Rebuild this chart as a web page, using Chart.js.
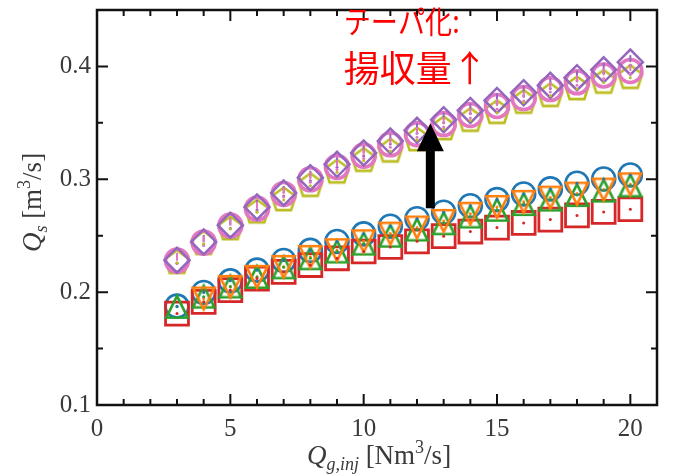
<!DOCTYPE html>
<html><head><meta charset="utf-8">
<script src="https://cdn.jsdelivr.net/npm/chart.js@4/dist/chart.umd.min.js"></script>
<style>html,body{margin:0;padding:0;background:#fff}#wrap{width:674px;height:475px;position:relative}</style>
</head><body><div id="wrap"><canvas id="c" width="674" height="475"></canvas></div>
<script>
// ---------- data ----------
const xValues = [3,4,5,6,7,8,9,10,11,12,13,14,15,16,17,18,19,20];
const blueCircle    = [0.1876,0.1997,0.2100,0.2195,0.2280,0.2370,0.2449,0.2516,0.2584,0.2650,0.2708,0.2766,0.2820,0.2870,0.2915,0.2965,0.3003,0.3038];
const orangeTriDown = [null,  0.1944,0.2047,0.2136,0.2224,0.2313,0.2372,0.2451,0.2519,0.2573,0.2631,0.2695,0.2755,0.2800,0.2838,0.2873,0.2909,0.2956];
const greenTriUp    = [0.1870,0.1960,0.2050,0.2135,0.2220,0.2300,0.2360,0.2430,0.2500,0.2555,0.2610,0.2670,0.2730,0.2780,0.2820,0.2860,0.2900,0.2945];
const redSquare     = [0.1810,0.1914,0.2018,0.2120,0.2180,0.2240,0.2300,0.2360,0.2400,0.2450,0.2496,0.2537,0.2572,0.2613,0.2643,0.2680,0.2711,0.2735];
const pinkCircle    = [0.2280,0.2440,0.2590,0.2740,0.2870,0.3000,0.3110,0.3210,0.3310,0.3400,0.3490,0.3570,0.3650,0.3720,0.3800,0.3860,0.3920,0.3960];
const purpleDiamond = [0.2283,0.2445,0.2593,0.2755,0.2879,0.3014,0.3133,0.3233,0.3339,0.3434,0.3528,0.3610,0.3699,0.3767,0.3832,0.3900,0.3970,0.4038];
const olivePentagon = [0.2260,0.2428,0.2560,0.2708,0.2817,0.2943,0.3062,0.3165,0.3248,0.3348,0.3446,0.3520,0.3590,0.3680,0.3740,0.3800,0.3858,0.3900];

const xMajorTicks = [0,5,10,15,20];
const xMinorTicks = [1,2,3,4,6,7,8,9,11,12,13,14,16,17,18,19,21];
const yMajorTicks = [0.1,0.2,0.3,0.4];
const yMinorTicks = [0.15,0.25,0.35];

const xTitleParts = [['Q','it'],['g,inj','sub'],[' [Nm',''],['3','sup'],['/s]','']];
const yTitleParts = [['Q','it'],['s','sub'],[' [m',''],['3','sup'],['/s]','']];

const annoLines = ['テーパ化:','揚収量↑'];
const annoX = 9.25;
const annoY = [0.4296, 0.386];
const arrowX = 12.5;
const arrowFromY = 0.2743;
const arrowToY = 0.3496;

// ---------- marker images ----------
function markerCanvas(kind, color, lw){
  const S = 34, m = S/2;
  const c = document.createElement('canvas'); c.width = S; c.height = S;
  const g = c.getContext('2d');
  g.strokeStyle = color; g.lineWidth = lw; g.lineJoin = 'miter';
  g.beginPath();
  if (kind === 'triUp'){ const h = 10.8; g.moveTo(m, m-h); g.lineTo(m+h, m+h); g.lineTo(m-h, m+h); }
  else if (kind === 'triDown'){ const h = 10.8; g.moveTo(m, m+h); g.lineTo(m+h, m-h); g.lineTo(m-h, m-h); }
  else if (kind === 'pent'){ const r = 12.5;
    for (let i=0;i<5;i++){ const a = -Math.PI/2 + i*2*Math.PI/5; const px = m + r*Math.cos(a), py = m + r*Math.sin(a); i?g.lineTo(px,py):g.moveTo(px,py); } }
  g.closePath(); g.stroke();
  return c;
}

const C = {blue:'#1f77b4', orange:'#ff7f0e', green:'#2ca02c', red:'#d62728', purple:'#9467bd', pink:'#e377c2', olive:'#bcbd22'};

function ds(label, arr, color, style, radius, bw, order, bar){
  return {
    label, order,
    data: xValues.map((x,i)=>({x, y: arr[i]})).filter(p=>p.y!==null),
    pointStyle: style, pointRadius: radius, pointHoverRadius: radius,
    borderColor: color, backgroundColor: 'rgba(0,0,0,0)', pointBorderWidth: bw, borderWidth: bw,
    showLine: false, dotColor: color, dotBar: !!bar
  };
}

const datasets = [
  ds('purple', purpleDiamond, C.purple, 'rectRot', 12.5, 2.5, 0, true),
  ds('pink', pinkCircle, C.pink, 'circle', 11.5, 3.6, 1, true),
  ds('olive', olivePentagon, C.olive, markerCanvas('pent', C.olive, 2.6), 12, 2.5, 2),
  ds('orange', orangeTriDown, C.orange, markerCanvas('triDown', C.orange, 2.6), 11, 2.5, 3),
  ds('green', greenTriUp, C.green, markerCanvas('triUp', C.green, 2.6), 11, 2.5, 4),
  ds('red', redSquare, C.red, 'rect', 16.2, 2.8, 5),
  ds('blue', blueCircle, C.blue, 'circle', 11.5, 2.6, 6)
];

// ---------- plugins ----------
const serif = '"Liberation Serif", "DejaVu Serif", serif';

function drawRich(ctx, parts, size){
  let w = 0;
  const items = parts.map(([t, k])=>{
    let f, dy = 0;
    if (k === 'it') f = `italic ${size}px ${serif}`;
    else if (k === 'sub'){ f = `italic ${Math.round(size*0.68)}px ${serif}`; dy = size*0.22; }
    else if (k === 'sup'){ f = `${Math.round(size*0.68)}px ${serif}`; dy = -size*0.42; }
    else f = `${size}px ${serif}`;
    ctx.font = f; const tw = ctx.measureText(t).width;
    const it = {t, f, dy, x: w}; w += tw; return it;
  });
  return {w, items};
}

const decorPlugin = {
  id: 'decor',
  afterDatasetsDraw(chart){
    const ctx = chart.ctx;
    chart.data.datasets.forEach((d, i)=>{
      const meta = chart.getDatasetMeta(i);
      ctx.save(); ctx.fillStyle = d.dotColor; ctx.strokeStyle = d.dotColor; ctx.lineWidth = 2;
      meta.data.forEach(el=>{
        ctx.beginPath(); ctx.arc(el.x, el.y + (d.dotBar ? 3 : 0), 1.5, 0, Math.PI*2); ctx.fill();
        if (d.dotBar){ ctx.beginPath(); ctx.moveTo(el.x, el.y - 7); ctx.lineTo(el.x, el.y); ctx.stroke(); }
      });
      ctx.restore();
    });
  },
  afterDraw(chart){
    const ctx = chart.ctx, a = chart.chartArea, xs = chart.scales.x, ys = chart.scales.y;
    ctx.save();
    ctx.strokeStyle = '#111'; ctx.lineWidth = 2.5;
    ctx.strokeRect(a.left, a.top, a.right - a.left, a.bottom - a.top);
    ctx.lineWidth = 2;
    const tick = (vals, len, isX)=>{
      vals.forEach(v=>{
        ctx.beginPath();
        if (isX){ const p = xs.getPixelForValue(v);
          ctx.moveTo(p, a.bottom); ctx.lineTo(p, a.bottom - len);
          ctx.moveTo(p, a.top); ctx.lineTo(p, a.top + len);
        } else { const p = ys.getPixelForValue(v);
          ctx.moveTo(a.left, p); ctx.lineTo(a.left + len, p);
          ctx.moveTo(a.right, p); ctx.lineTo(a.right - len, p);
        }
        ctx.stroke();
      });
    };
    tick(xMajorTicks, 11, true); tick(xMinorTicks, 6, true);
    tick(yMajorTicks, 11, false); tick(yMinorTicks, 6, false);

    ctx.fillStyle = '#3a3a3a'; ctx.textBaseline = 'alphabetic';
    let r = drawRich(ctx, xTitleParts, 27);
    let x0 = (a.left + a.right)/2 - r.w/2 + 2, y0 = 464;
    r.items.forEach(it=>{ ctx.font = it.f; ctx.fillText(it.t, x0 + it.x, y0 + it.dy); });
    r = drawRich(ctx, yTitleParts, 27);
    ctx.save(); ctx.translate(41, (a.top + a.bottom)/2 - 5); ctx.rotate(-Math.PI/2);
    r.items.forEach(it=>{ ctx.font = it.f; ctx.fillText(it.t, -r.w/2 + it.x, it.dy); });
    ctx.restore();

    const ax = xs.getPixelForValue(arrowX), ay0 = ys.getPixelForValue(arrowFromY), ay1 = ys.getPixelForValue(arrowToY);
    ctx.fillStyle = '#000';
    ctx.fillRect(ax - 4.5, ay1 + 26, 9, ay0 - ay1 - 26);
    ctx.beginPath(); ctx.moveTo(ax, ay1); ctx.lineTo(ax + 13.5, ay1 + 28); ctx.lineTo(ax - 13.5, ay1 + 28); ctx.closePath(); ctx.fill();

    ctx.fillStyle = '#ff0000'; ctx.textAlign = 'left';
    const tx = xs.getPixelForValue(annoX);
    ctx.font = '31px "Noto Sans CJK JP", sans-serif';
    ctx.fillText(annoLines[0], tx, ys.getPixelForValue(annoY[0]), 116);
    ctx.font = '36px "Noto Sans CJK JP", sans-serif';
    ctx.fillText(annoLines[1], tx, ys.getPixelForValue(annoY[1]));
    ctx.restore();
  }
};

new Chart(document.getElementById('c'), {
  type: 'scatter',
  data: { datasets },
  options: {
    responsive: false, animation: false, devicePixelRatio: 1,
    layout: { autoPadding: false, padding: { left: 0, right: 17, top: 10, bottom: 0 } },
    plugins: { legend: { display: false }, tooltip: { enabled: false } },
    scales: {
      x: {
        type: 'linear', min: 0, max: 21,
        grid: { display: false, drawTicks: false }, border: { display: false },
        ticks: { font: { family: serif, size: 25 }, color: '#3a3a3a', padding: 9, callback: v => String(v) },
        afterBuildTicks: s => { s.ticks = xMajorTicks.map(v => ({ value: v })); },
        afterFit: s => { s.height = 70; s.paddingLeft = 0; s.paddingRight = 0; }
      },
      y: {
        type: 'linear', min: 0.1, max: 0.45,
        grid: { display: false, drawTicks: false }, border: { display: false },
        ticks: { font: { family: serif, size: 25 }, color: '#3a3a3a', padding: 6, callback: v => v.toFixed(1) },
        afterBuildTicks: s => { s.ticks = yMajorTicks.map(v => ({ value: v })); },
        afterFit: s => { s.width = 97; s.paddingTop = 0; s.paddingBottom = 0; }
      }
    }
  },
  plugins: [decorPlugin]
});
</script>
</body></html>
